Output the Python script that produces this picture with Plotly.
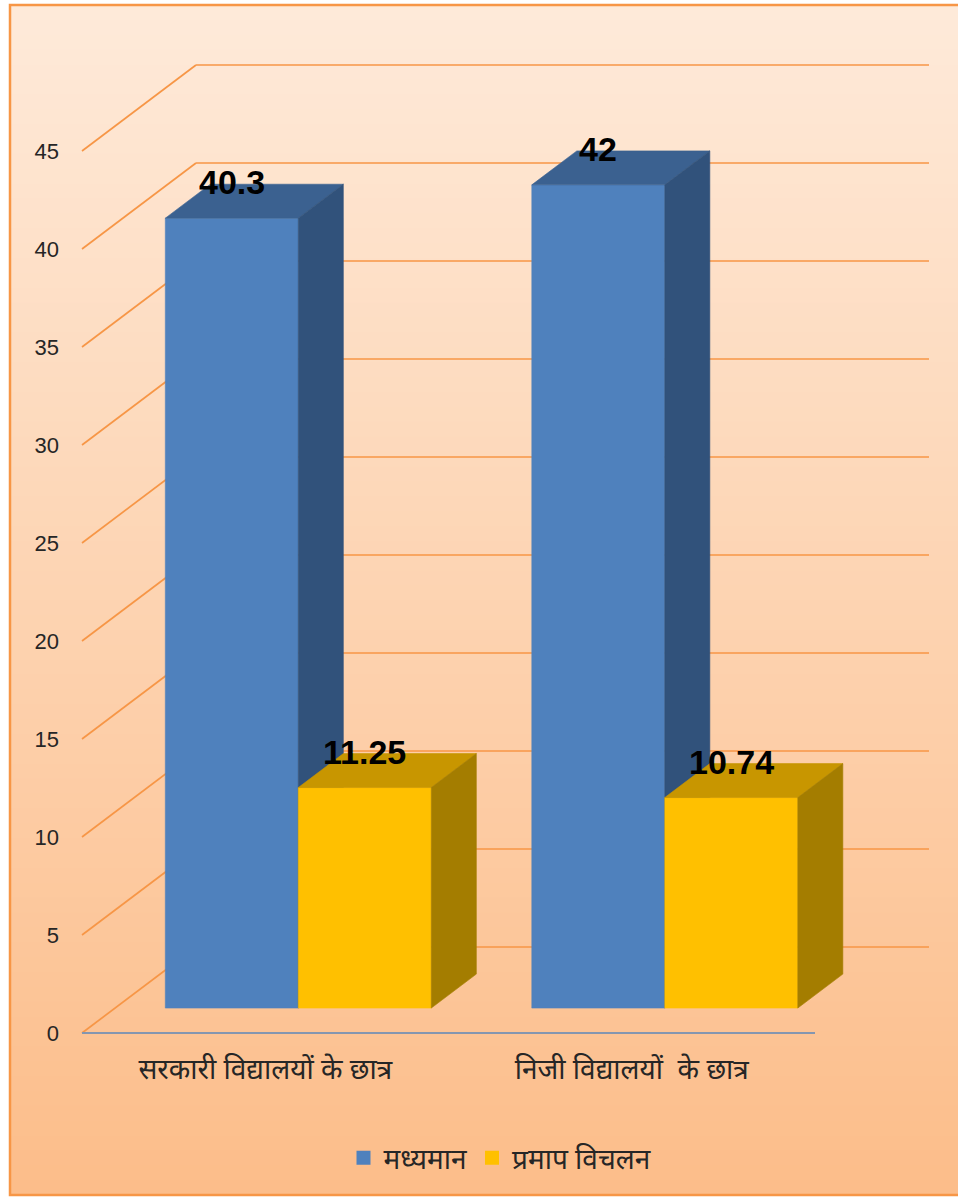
import plotly.graph_objects as go

# ---------------- data ----------------
categories = ["सरकारी विद्यालयों के छात्र", "निजी विद्यालयों  के छात्र"]
series_names = ["मध्यमान", "प्रमाप विचलन"]
mean_values = [40.3, 42]
sd_values = [11.25, 10.74]
y_tick_values = [0, 5, 10, 15, 20, 25, 30, 35, 40, 45]

# ---------------- style / geometry ----------------
FRONT = ["#4F81BD", "#FFC000"]
TOP = ["#3B6190", "#C89600"]
SIDE = ["#31527B", "#A47D00"]
GRID = "#F79646"

FIG_W, FIG_H = 958, 1197
ML, MR, MT, MB = 64, 22, 40, 157
PW, PH = FIG_W - ML - MR, FIG_H - MT - MB
X_PX = 366.5          # pixels per category unit
Y_PX = 19.6           # pixels per value unit
X_ORIGIN_PX = 82      # pixel of front-left corner (x=-0.5)
Y_ORIGIN_PX = 1033    # pixel of value 0 on front plane
DX = 114 / X_PX       # depth vector in axis units
DY = 86 / Y_PX
F0, F1 = 0.29, 0.685  # bar depth position (fraction of full depth)
BAR_W = 133 / X_PX

xmin = -0.5 - (X_ORIGIN_PX - ML) / X_PX
xmax = xmin + PW / X_PX
ymin = -((MT + PH) - Y_ORIGIN_PX) / Y_PX
ymax = ymin + PH / Y_PX

n_cat = len(categories)


def px_to_paper(px, py):
    return (px - ML) / PW, ((MT + PH) - py) / PH


fig = go.Figure()

# --------- bars drawn as 3-D prisms ---------
series_values = [mean_values, sd_values]
annotations = []
ddx, ddy = (F1 - F0) * DX, (F1 - F0) * DY
for i in range(n_cat):
    for s, vals in enumerate(series_values):
        v = vals[i]
        off = -BAR_W if s == 0 else 0.0
        xl = i + off + F0 * DX
        xr = xl + BAR_W
        yb = F0 * DY
        yt = yb + v
        faces = [
            ([xl, xr, xr, xl, xl], [yb, yb, yt, yt, yb], FRONT[s]),
            ([xl, xr, xr + ddx, xl + ddx, xl], [yt, yt, yt + ddy, yt + ddy, yt], TOP[s]),
            ([xr, xr + ddx, xr + ddx, xr, xr], [yb, yb + ddy, yt + ddy, yt, yb], SIDE[s]),
        ]
        for fx, fy, col in faces:
            fig.add_trace(go.Scatter(
                x=fx, y=fy, mode="lines", fill="toself", fillcolor=col,
                line=dict(color=col, width=0.6), hoverinfo="skip",
                showlegend=False))
        annotations.append(dict(
            x=xl + BAR_W / 2, y=yt + ddy, xref="x", yref="y",
            text=f"{v:g}", showarrow=False, xanchor="center", yanchor="middle",
            yshift=2,
            font=dict(family="Liberation Sans", size=34, color="#000000",
                      weight="bold")))

# legend entries
for s, name in enumerate(series_names):
    fig.add_trace(go.Scatter(x=[None], y=[None], name=name, mode="markers",
                             marker=dict(color=FRONT[s], symbol="square", size=14),
                             hoverinfo="skip"))

# --------- shapes: background gradient, border, walls ---------
shapes = []
top_c = (254, 234, 218)
bot_c = (252, 189, 137)
y0_px, y1_px = 5, 1195
n_strips = 80
step = (y1_px - y0_px) / n_strips
for k in range(n_strips):
    t = (k + 0.5) / n_strips
    col = tuple(round(top_c[j] + (bot_c[j] - top_c[j]) * t) for j in range(3))
    pa = px_to_paper(10, y0_px + k * step)
    pb = px_to_paper(960, y0_px + (k + 1) * step + 1)
    shapes.append(dict(type="rect", xref="paper", yref="paper",
                       x0=pa[0], x1=pb[0], y0=pb[1], y1=pa[1],
                       fillcolor="rgb(%d,%d,%d)" % col, line=dict(width=0),
                       layer="below"))
pa = px_to_paper(10, 5)
pb = px_to_paper(962, 1195)
shapes.append(dict(type="rect", xref="paper", yref="paper",
                   x0=pa[0], x1=pb[0], y0=pb[1], y1=pa[1],
                   line=dict(color=GRID, width=2.5), layer="below"))

x_left = -0.5
x_right = -0.5 + n_cat
for v in y_tick_values:
    shapes.append(dict(type="line", xref="x", yref="y",
                       x0=x_left, y0=v, x1=x_left + DX, y1=v + DY,
                       line=dict(color=GRID, width=1.7), layer="below"))
    shapes.append(dict(type="line", xref="x", yref="y",
                       x0=x_left + DX, y0=v + DY, x1=x_right + DX, y1=v + DY,
                       line=dict(color=GRID, width=1.7), layer="below"))
shapes.append(dict(type="line", xref="x", yref="y",
                   x0=x_left, y0=0, x1=x_right, y1=0,
                   line=dict(color="#8496B0", width=2.2), layer="below"))

fig.update_layout(
    width=FIG_W, height=FIG_H,
    margin=dict(l=ML, r=MR, t=MT, b=MB, pad=0),
    paper_bgcolor="#FFFFFF", plot_bgcolor="rgba(0,0,0,0)",
    shapes=shapes, annotations=annotations,
    showlegend=True,
    legend=dict(orientation="h", x=0.5, xanchor="center",
                y=px_to_paper(0, 1158)[1], yanchor="middle",
                bgcolor="rgba(0,0,0,0)", itemsizing="trace",
                font=dict(family="Noto Sans, sans-serif", size=28, color="#262626")),
    xaxis=dict(range=[xmin, xmax], showgrid=False, zeroline=False,
               showline=False, ticks="", tickvals=list(range(n_cat)),
               ticktext=categories, ticklabelstandoff=10,
               tickfont=dict(family="Noto Sans, sans-serif", size=28,
                             color="#262626"),
               fixedrange=True),
    yaxis=dict(range=[ymin, ymax], showgrid=False, zeroline=False,
               showline=False, ticks="", tickvals=y_tick_values,
               ticklabelstandoff=4,
               tickfont=dict(family="Liberation Sans", size=22,
                             color="#262626"),
               fixedrange=True),
)

fig.write_html("out.html")
